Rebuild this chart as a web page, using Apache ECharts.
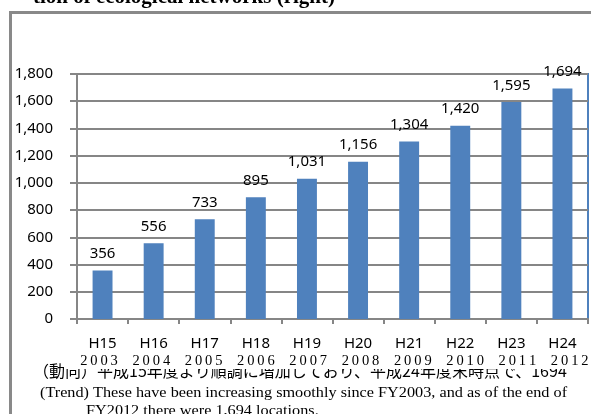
<!DOCTYPE html>
<html>
<head>
<meta charset="utf-8">
<script src="https://cdn.jsdelivr.net/npm/echarts@6/dist/echarts.min.js"></script>
<style>
  html, body { margin: 0; padding: 0; background: #fff; }
  #main { width: 591px; height: 414px; }
</style>
</head>
<body>
<div id="main"></div>
<script>
// categories and values
var categories = ['H15', 'H16', 'H17', 'H18', 'H19', 'H20', 'H21', 'H22', 'H23', 'H24'];
var years = ['2003', '2004', '2005', '2006', '2007', '2008', '2009', '2010', '2011', '2012'];
var values = [356, 556, 733, 895, 1031, 1156, 1304, 1420, 1595, 1694];

var titleText = 'tion of ecological networks (right)';
var noteJa = '（動向）平成15年度より順調に増加しており、平成24年度末時点で、1694';
var noteEn1 = '(Trend) These have been increasing smoothly since FY2003, and as of the end of';
var noteEn2 = 'FY2012 there were 1,694 locations.';

var sans = '"Noto Sans", sans-serif';
var serif = '"Liberation Serif", "Times New Roman", serif';

var myChart = echarts.init(document.getElementById('main'), null, { renderer: 'canvas' });

function fmt(v) {
  return String(v).replace(/\B(?=(\d{3})+(?!\d))/g, ',');
}

// year labels under the category names (spaced out like the original)
var yearTexts = years.map(function (y, i) {
  return {
    type: 'text',
    x: 99 + i * 52.3,
    y: 361,
    z: 30,
    style: {
      text: y.split('').join('\u2009'),
      font: '14.5px ' + serif,
      fill: '#000',
      align: 'center',
      verticalAlign: 'middle'
    }
  };
});

var option = {
  backgroundColor: '#fff',
  animation: false,
  grid: {
    left: 77,
    right: 3,
    top: 74,
    bottom: 95,
    show: true,
    borderColor: '#4f81bd',
    borderWidth: 2,
    backgroundColor: 'transparent'
  },
  xAxis: {
    type: 'category',
    data: categories,
    axisLine: { lineStyle: { color: '#868686', width: 2 } },
    axisTick: { show: true, inside: false, length: 5, alignWithLabel: false, lineStyle: { color: '#868686', width: 2 } },
    axisLabel: { color: '#000', fontSize: 15, fontFamily: sans, margin: 17 },
    splitLine: { show: false }
  },
  yAxis: {
    type: 'value',
    min: 0,
    max: 1800,
    interval: 200,
    axisLine: { show: true, lineStyle: { color: '#868686', width: 2 } },
    axisTick: { show: true, length: 7, lineStyle: { color: '#868686', width: 2 } },
    axisLabel: { color: '#000', fontSize: 15, fontFamily: sans, margin: 24, formatter: fmt },
    splitLine: { show: true, lineStyle: { color: '#868686', width: 2 } }
  },
  series: [{
    type: 'bar',
    data: values,
    barWidth: '39%',
    itemStyle: { color: '#4f81bd' },
    z: 3,
    label: {
      show: true,
      position: 'top',
      distance: 9,
      color: '#000',
      fontSize: 15,
      fontFamily: sans,
      formatter: function (p) { return fmt(p.value); }
    }
  }],
  graphic: [
    {
      type: 'rect',
      z: -10,
      silent: true,
      shape: { x: 10.5, y: 12.5, width: 700, height: 500 },
      style: { fill: '#fff', stroke: '#898989', lineWidth: 3 }
    },
    {
      type: 'text',
      x: 335,
      y: -2,
      z: 20,
      style: {
        text: titleText,
        font: 'bold 21px ' + serif,
        fill: '#000',
        align: 'right',
        verticalAlign: 'middle'
      }
    },
    {
      type: 'text',
      x: 33,
      y: 371,
      z: 20,
      style: {
        text: noteJa,
        font: '16px "Noto Sans CJK JP", sans-serif',
        fill: '#000',
        align: 'left',
        verticalAlign: 'middle'
      }
    },
    {
      type: 'rect',
      z: 25,
      silent: true,
      shape: { x: 64, y: 352, width: 540, height: 17 },
      style: { fill: '#fff' }
    },
    {
      type: 'text',
      x: 40,
      y: 393,
      z: 20,
      scaleX: 1.12,
      style: {
        text: noteEn1,
        font: '14.5px ' + serif,
        fill: '#000',
        align: 'left',
        verticalAlign: 'middle'
      }
    },
    {
      type: 'text',
      x: 86,
      y: 411,
      z: 20,
      scaleX: 1.12,
      style: {
        text: noteEn2,
        font: '14.5px ' + serif,
        fill: '#000',
        align: 'left',
        verticalAlign: 'middle'
      }
    }
  ].concat(yearTexts)
};

myChart.setOption(option);
</script>
</body>
</html>
